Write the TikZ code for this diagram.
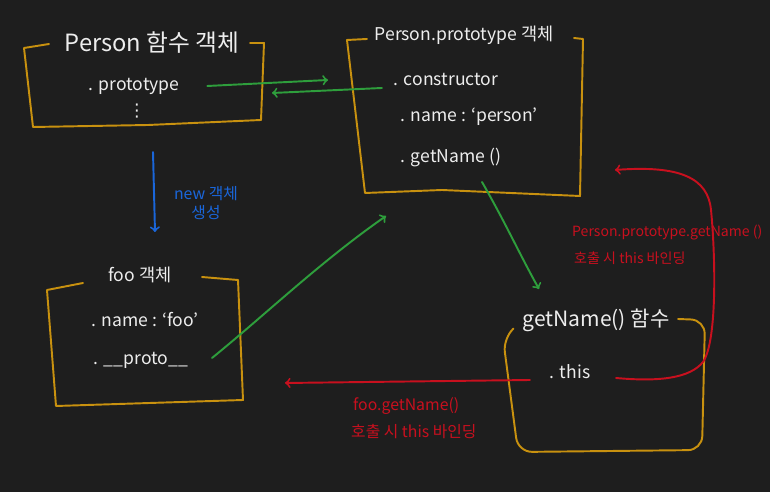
\documentclass[tikz,border=0pt]{standalone}
\usepackage{fontspec}
\setmainfont{Noto Sans CJK KR}
\newfontfamily\symfont{DejaVu Sans}
\definecolor{board}{HTML}{1E1E1E}
\definecolor{chalk}{HTML}{EDEDED}
\definecolor{gold}{HTML}{C8910F}
\definecolor{lime}{HTML}{2E9E3C}
\definecolor{azure}{HTML}{1A66DA}
\definecolor{crimson}{HTML}{C8101E}
\begin{document}
\begin{tikzpicture}[x=0.02cm,y=-0.02cm,
  boxline/.style={gold,line width=1.1pt,line join=round,line cap=round},
  link/.style={->,line width=1.1pt,line cap=round},
  txt/.style={chalk,inner sep=2pt}]
\useasboundingbox (0,0) rectangle (770,492);
\fill[board] (0,0) rectangle (770,492);
\draw[boxline] (49,44) -- (24,48) -- (33,127) -- (148,125) -- (261,120) -- (264,43) -- (250,43);
\draw[boxline] (367,39) -- (347,40) -- (365,193) -- (442,190) -- (580,196) -- (583,39) -- (574,38);
\draw[boxline] (83,283) -- (47,290) -- (56,406) -- (243,400) -- (238,280) -- (202,277);
\draw[boxline,rounded corners=8pt] (513,329) -- (503,338) -- (518,452) -- (702,450) -- (705,320) -- (678,319);
\node[txt,font=\fontsize{13.5pt}{16pt}\selectfont] (personfn) at (152,43) {Person 함수 객체};
\node[txt] (protoitem) at (134,86) {. prototype};
\node[chalk,inner sep=0pt,font=\symfont] (moreitem) at (137,111) {⋮};
\node[txt] (protoobj) at (464,35) {Person.prototype 객체};
\node[txt] (ctor) at (446,80) {. constructor};
\node[txt] (nameitem) at (469,117) {. name : `person'};
\node[txt] (getname) at (451,158) {. getName ()};
\node[txt] (fooobj) at (140,275) {foo 객체};
\node[txt] (fooname) at (145,320) {. name : `foo'};
\node[txt] (protolink) at (141,360) {. \_\_proto\_\_};
\node[txt,font=\large] (getnamefn) at (596,320) {getName() 함수};
\node[txt] (thisitem) at (570,372) {. this};
\node[azure,font=\small,align=center] (newlabel) at (206,203) {new 객체\\생성};
\node[crimson,font=\footnotesize,anchor=west] (protocall) at (566,233) {Person.prototype.getName ()};
\node[crimson,font=\footnotesize,anchor=west] (protonote) at (568,258) {호출 시 this 바인딩};
\node[crimson,font=\small,anchor=west] (foocall) at (347,406) {foo.getName()};
\node[crimson,font=\small,anchor=west] (foonote) at (345,432) {호출 시 this 바인딩};
\coordinate (consin) at (328,80);
\coordinate (protoin) at (272,93);
\coordinate (newtop) at (153,152);
\coordinate (newbot) at (155,232);
\coordinate (objin) at (386,216);
\coordinate (gnstart) at (482,182);
\coordinate (fnin) at (539,289);
\coordinate (fooin) at (285,383);
\coordinate (backin) at (615,170);
\draw[link,lime] (protoitem.east) ++(24,0) -- (consin);
\draw[link,lime] (ctor.west) ++(-8,8) -- (protoin);
\draw[link,azure] (newtop) -- (newbot);
\draw[link,lime] (protolink.east) ++(20,-2) .. controls (265,315) and (320,262) .. (objin);
\draw[link,lime] (gnstart) .. controls (505,222) and (520,255) .. (fnin);
\draw[link,crimson] (thisitem.west) ++(-16,8) -- (fooin);
\draw[link,crimson] (thisitem.east) ++(22,6) .. controls (660,382) and (690,378) .. (703,362) .. controls (718,340) and (715,250) .. (711,210) .. controls (708,178) and (680,165) .. (backin);
\end{tikzpicture}
\end{document}
